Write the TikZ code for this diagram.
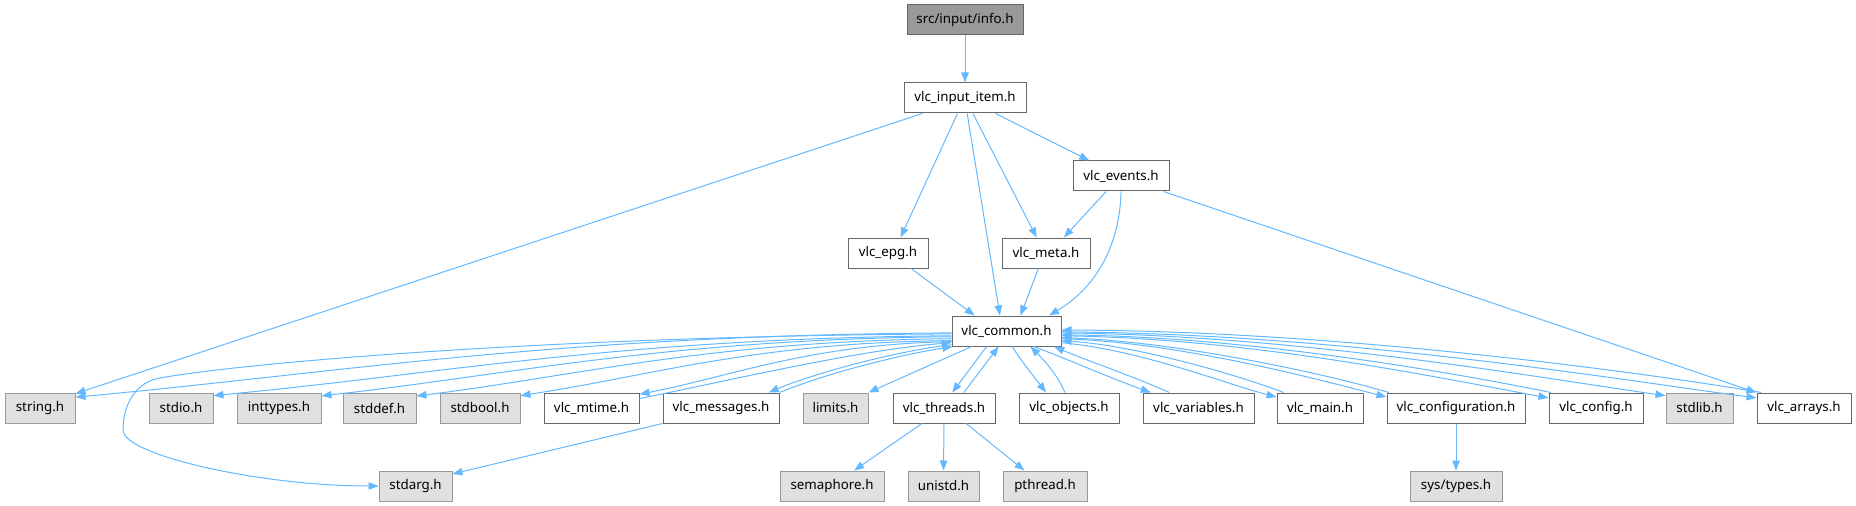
\documentclass[tikz,border=0pt]{standalone}
\usepackage{fontspec}
\setmainfont{Noto Sans}
\usetikzlibrary{arrows.meta}
\definecolor{edgec}{HTML}{63B8FF}
\definecolor{bdark}{HTML}{666666}
\definecolor{blight}{HTML}{999999}
\definecolor{fgray}{HTML}{E0E0E0}
\definecolor{froot}{HTML}{999999}
\begin{document}
\begin{tikzpicture}[x=0.75pt,y=-0.75pt,
  box/.style={draw=bdark, fill=white, line width=0.75pt, minimum height=22.5pt, inner sep=0pt, font=\fontsize{10}{12}\selectfont, text=black},
  sysbox/.style={box, draw=blight, fill=fgray},
  rootbox/.style={box, fill=froot},
  bw/.style={minimum width=#1*0.75pt},
  dep/.style={draw=edgec, line width=0.75pt, -{Triangle[length=7.5pt,width=5.6pt]}}]
\useasboundingbox (0,0) rectangle (1856,506);

% nodes
\node[rootbox,bw=116] (info) at (965,20) {src/input/info.h};
\node[box,bw=122] (item) at (965,98) {vlc\_input\_item.h};
\node[box,bw=96] (events) at (1121,176) {vlc\_events.h};
\node[box,bw=80] (epg) at (888,253) {vlc\_epg.h};
\node[box,bw=88] (meta) at (1046,253) {vlc\_meta.h};
\node[box,bw=109] (common) at (1006.5,331) {vlc\_common.h};

\node[sysbox,bw=70] (string) at (40,408) {string.h};
\node[sysbox,bw=64] (stdio) at (181,408) {stdio.h};
\node[sysbox,bw=84] (inttypes) at (279,408) {inttypes.h};
\node[sysbox,bw=73] (stddef) at (379.5,408) {stddef.h};
\node[sysbox,bw=80] (stdbool) at (480,408) {stdbool.h};
\node[box,bw=95] (mtime) at (591.5,408) {vlc\_mtime.h};
\node[box,bw=116] (messages) at (721,408) {vlc\_messages.h};
\node[sysbox,bw=65] (limits) at (835.5,408) {limits.h};
\node[box,bw=102] (threads) at (944,408) {vlc\_threads.h};
\node[box,bw=100] (objects) at (1069,408) {vlc\_objects.h};
\node[box,bw=111] (variables) at (1198.5,408) {vlc\_variables.h};
\node[box,bw=86] (main) at (1320,408) {vlc\_main.h};
\node[box,bw=138] (configuration) at (1456,408) {vlc\_configuration.h};
\node[box,bw=94] (config) at (1596,408) {vlc\_config.h};
\node[sysbox,bw=67] (stdlib) at (1699.5,408) {stdlib.h};
\node[box,bw=94] (arrays) at (1804,408) {vlc\_arrays.h};

\node[sysbox,bw=73] (stdarg) at (415.5,486) {stdarg.h};
\node[sysbox,bw=104] (semaphore) at (832,486) {semaphore.h};
\node[sysbox,bw=71] (unistd) at (943.5,486) {unistd.h};
\node[sysbox,bw=84] (pthread) at (1045,486) {pthread.h};
\node[sysbox,bw=92] (systypes) at (1456,486) {sys/types.h};

% top part
\draw[dep] (info.south) -- (item.north);
\draw[dep] (item.200) -- (string.22);
\draw[dep] (item.244) -- (epg.51);
\draw[dep] (item.278) -- (common.113);
\draw[dep] (item.297) -- (meta.121);
\draw[dep] (item.333) -- (events.154);
\draw[dep] (events.226) -- (meta.41);
\draw[dep] (events.south) .. controls (1120,240) and (1100,285) .. (common.20);
\draw[dep] (events.340) -- (arrays.162);
\draw[dep] (epg.326) -- (common.154);
\draw[dep] (meta.244) -- (common.48);

% common to the left
\draw[dep] (common.182) .. controls (557,335) and (338,373) .. (string.17);
\draw[dep] (common.183) .. controls (560,336) and (250,362) .. (160,378)
  .. controls (135.5,382) and (123,405) .. (123,430)
  .. controls (123,455) and (260,486) .. (stdarg.west);
\draw[dep] (common.185) .. controls (619,338) and (435,375) .. (stdio.21);
\draw[dep] (common.186) .. controls (668,339) and (510,375) .. (inttypes.16);
\draw[dep] (common.188) .. controls (711,341) and (577,376) .. (stddef.18);
\draw[dep] (common.190) .. controls (758,342) and (650,376) .. (stdbool.17);
\draw[dep] (common.191) .. controls (811,344) and (733,376) .. (mtime.16);
\draw[dep] (mtime.11) .. controls (740,378) and (860,350) .. (common.192);
\draw[dep] (common.194) .. controls (890,352) and (810,375) .. (messages.18);
\draw[dep] (messages.north east) .. controls (830,372) and (900,355) .. (common.196);

% common below
\draw[dep] (common.204) -- (limits.north east);
\draw[dep] (common.218) -- (threads.62);
\draw[dep] (threads.38) -- (common.243);
\draw[dep] (common.290) .. controls (1022,362) and (1035,378) .. (objects.146);
\draw[dep] (objects.105) .. controls (1058,375) and (1042,358) .. (common.327);
\draw[dep] (common.330) .. controls (1070,360) and (1110,378) .. (variables.162);
\draw[dep] (variables.152) .. controls (1130,375) and (1080,358) .. (common.342);

% common to the right
\draw[dep] (common.348) .. controls (1140,350) and (1220,382) .. (main.166);
\draw[dep] (main.157) .. controls (1230,372) and (1130,345) .. (common.350);
\draw[dep] (common.352) .. controls (1180,342) and (1320,380) .. (configuration.171);
\draw[dep] (configuration.167) .. controls (1320,372) and (1170,341) .. (common.353);
\draw[dep] (common.355) .. controls (1250,338) and (1440,378) .. (config.168);
\draw[dep] (config.161) .. controls (1450,372) and (1250,337) .. (common.356);
\draw[dep] (common.358) .. controls (1300,335) and (1540,378) .. (stdlib.160);
\draw[dep] (common.359) .. controls (1340,333) and (1620,380) .. (arrays.168);
\draw[dep] (arrays.160) .. controls (1640,372) and (1340,331) .. (common.1);

% lower level
\draw[dep] (messages.south west) -- (stdarg.18);
\draw[dep] (threads.215) -- (semaphore.35);
\draw[dep] (threads.south) -- (unistd.north);
\draw[dep] (threads.325) -- (pthread.143);
\draw[dep] (configuration.south) -- (systypes.north);
\end{tikzpicture}
\end{document}
